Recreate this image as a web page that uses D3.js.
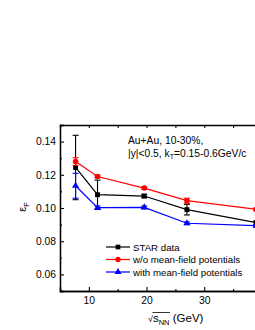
<!DOCTYPE html>
<html>
<head>
<meta charset="utf-8">
<script src="https://d3js.org/d3.v7.min.js"></script>
<style>
  body { margin: 0; background: #fff; }
  text { font-family: Arial, "Liberation Sans", sans-serif; }
</style>
</head>
<body>
<script>
// collision energies (GeV)
var energies = [7.7, 11.5, 19.6, 27, 39];
// STAR data
var starVals = [0.1244, 0.108, 0.1072, 0.099, 0.0912];
var starErr = [0.0194, 0.0088, 0.001, 0.0032, 0.001];
// w/o mean-field potentials
var noMfVals = [0.128, 0.119, 0.112, 0.1044, 0.0992];
var noMfErr = [0.0023, 0.0008, 0.0008, 0.0015, 0.0008];
// with mean-field potentials
var mfVals = [0.1134, 0.1002, 0.1004, 0.0908, 0.0893];
var mfErr = [0.0075, 0.001, 0.0008, 0.0008, 0.0008];

var yTicks = [0.06, 0.08, 0.10, 0.12, 0.14];
var xTicks = [10, 20, 30];

var width = 255, height = 330;
var margin = {left: 60, top: 125, bottom: 39};

var svg = d3.select("body").append("svg")
            .attr("width", width)
            .attr("height", height);

var x = d3.scaleLinear().domain([5, 40]).range([margin.left, margin.left + 35 * 5.77]);
var y = d3.scaleLinear().domain([0.05, 0.15]).range([height - margin.bottom, margin.top]);

var series = [
  {name: "STAR data", vals: starVals, err: starErr, color: "#000000", shape: d3.symbolSquare},
  {name: "w/o mean-field potentials", vals: noMfVals, err: noMfErr, color: "#ff0000", shape: d3.symbolCircle},
  {name: "with mean-field potentials", vals: mfVals, err: mfErr, color: "#0000ff", shape: d3.symbolTriangle}
];

// axes (ticks inside)
var xAxis = d3.axisBottom(x).tickValues(xTicks).tickSize(-4).tickPadding(6).tickFormat(d3.format("d"));
var xMinor = d3.axisBottom(x).tickValues([15, 25, 35]).tickSize(-2).tickFormat("");
var xTop = d3.axisTop(x).tickValues([10, 15, 20, 25, 30, 35]).tickSize(-3).tickFormat("");
var yAxis = d3.axisLeft(y).tickValues(yTicks).tickSize(-4).tickPadding(4).tickFormat(d3.format(".2f"));
var yMinor = d3.axisLeft(y).tickValues([0.07, 0.09, 0.11, 0.13]).tickSize(-2).tickFormat("");

function styleAxis(g) {
  g.select(".domain").attr("stroke-width", 1.3);
  g.selectAll("line").attr("stroke-width", 1.1);
  g.selectAll("text").attr("font-size", 10.3).attr("fill", "#000");
}

svg.append("g").attr("transform", "translate(0," + y(0.05) + ")").call(xAxis).call(styleAxis);
svg.append("g").attr("transform", "translate(0," + y(0.05) + ")").call(xMinor).call(styleAxis);
svg.append("g").attr("transform", "translate(0," + y(0.15) + ")").call(xTop).call(styleAxis);
svg.append("g").attr("transform", "translate(" + margin.left + ",0)").call(yAxis).call(styleAxis);
svg.append("g").attr("transform", "translate(" + margin.left + ",0)").call(yMinor).call(styleAxis);

var line = d3.line()
             .x(function(d) { return x(d[0]); })
             .y(function(d) { return y(d[1]); });

series.forEach(function(s) {
  var pts = energies.map(function(e, i) { return [e, s.vals[i], s.err[i]]; });
  var g = svg.append("g");
  g.append("path")
   .attr("d", line(pts))
   .attr("fill", "none")
   .attr("stroke", s.color)
   .attr("stroke-width", 1.2);
  // error bars
  pts.forEach(function(p) {
    g.append("line")
     .attr("x1", x(p[0])).attr("x2", x(p[0]))
     .attr("y1", y(p[1] + p[2])).attr("y2", y(p[1] - p[2]))
     .attr("stroke", s.color).attr("stroke-width", 1.1);
    [p[1] + p[2], p[1] - p[2]].forEach(function(v) {
      g.append("line")
       .attr("x1", x(p[0]) - 3).attr("x2", x(p[0]) + 3)
       .attr("y1", y(v)).attr("y2", y(v))
       .attr("stroke", s.color).attr("stroke-width", 1.1);
    });
  });
  g.selectAll("path.pt")
   .data(pts)
   .enter().append("path")
   .attr("class", "pt")
   .attr("transform", function(d) { return "translate(" + x(d[0]) + "," + y(d[1]) + ")"; })
   .attr("d", d3.symbol().type(s.shape).size(s.shape === d3.symbolTriangle ? 22 : 24))
   .attr("fill", s.color);
});

// legend
var legend = svg.selectAll("g.legend")
                .data(series)
                .enter().append("g")
                .attr("class", "legend")
                .attr("transform", function(d, i) { return "translate(106," + (247 + i * 12.5) + ")"; });
legend.append("line")
      .attr("x1", 0).attr("x2", 24)
      .attr("stroke", function(d) { return d.color; })
      .attr("stroke-width", 1.2);
legend.append("path")
      .attr("transform", "translate(12,0)")
      .attr("d", function(d) { return d3.symbol().type(d.shape).size(22)(); })
      .attr("fill", function(d) { return d.color; });
legend.append("text")
      .attr("x", 27).attr("y", 3.5)
      .attr("font-size", 9.7)
      .text(function(d) { return d.name; });

// annotation
var note = svg.append("text").attr("x", 128).attr("y", 144).attr("font-size", 10.3);
note.text("Au+Au, 10-30%,");
var note2 = svg.append("text").attr("x", 128).attr("y", 157).attr("font-size", 10.3);
note2.append("tspan").text("|y|<0.5, k");
note2.append("tspan").attr("font-size", 7).attr("dy", 2).text("T");
note2.append("tspan").attr("dy", -2).text("=0.15-0.6GeV/c");

// y label
var ylab = svg.append("text")
              .attr("transform", "translate(26,207) rotate(-90)")
              .attr("text-anchor", "middle")
              .attr("font-size", 11);
ylab.append("tspan").text("ε");
ylab.append("tspan").attr("font-size", 7.5).attr("dy", 3).text("F");

// x label: small radical with an overline over s_NN
var xlab = svg.append("text")
              .attr("x", 148).attr("y", 322)
              .attr("font-size", 11.5);
xlab.append("tspan").attr("font-size", 9).text("√");
var sPart = xlab.append("tspan").text("s");
xlab.append("tspan").attr("font-size", 7.5).attr("dy", 3).text("NN");
var gev = xlab.append("tspan").attr("dy", -3).text(" (GeV)");
var sStart = xlab.node().getStartPositionOfChar(1).x;
var nnEnd = xlab.node().getEndPositionOfChar(3).x;
svg.append("line")
   .attr("x1", sStart - 0.5).attr("x2", nnEnd + 0.5)
   .attr("y1", 312.5).attr("y2", 312.5)
   .attr("stroke", "#000").attr("stroke-width", 0.8);
</script>
</body>
</html>
